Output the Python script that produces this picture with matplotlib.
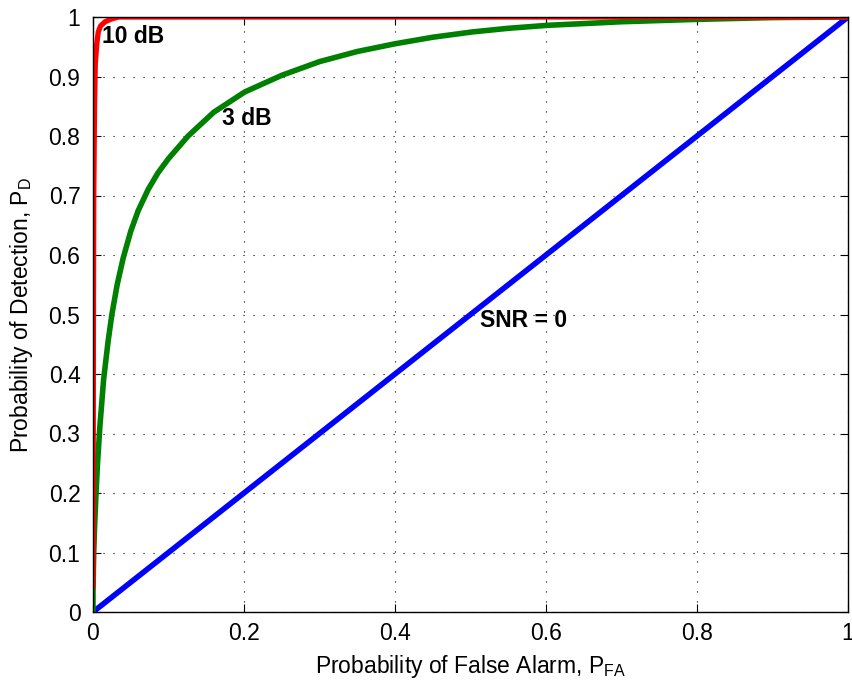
import matplotlib
matplotlib.use("Agg")
import matplotlib.pyplot as plt

plt.rcParams["font.family"] = ["Liberation Sans", "DejaVu Sans"]
plt.rcParams["mathtext.default"] = "regular"

# ROC curves: probability of false alarm vs probability of detection
snr0_pfa = [0.0, 1.0]
snr0_pd = [0.0, 1.0]

snr3_pfa = [0.0, 0.0, 0.0005, 0.001, 0.002, 0.004, 0.006, 0.009, 0.014,
            0.020, 0.025, 0.032, 0.040, 0.050, 0.060, 0.073, 0.086, 0.100,
            0.126, 0.160, 0.201, 0.250, 0.300, 0.350, 0.400, 0.450, 0.503,
            0.550, 0.602, 0.700, 0.800, 0.900, 1.0]
snr3_pd = [0.0, 0.03, 0.07, 0.10, 0.14, 0.20, 0.25, 0.31, 0.39,
           0.455, 0.50, 0.55, 0.595, 0.64, 0.675, 0.71, 0.738, 0.762,
           0.80, 0.84, 0.874, 0.902, 0.925, 0.942, 0.955, 0.966, 0.975,
           0.981, 0.986, 0.992, 0.996, 0.999, 1.0]

snr10_pfa = [0.0, 0.0005, 0.001, 0.002, 0.003, 0.005, 0.007, 0.010, 0.016,
             0.025, 0.034, 0.1, 1.0]
snr10_pd = [0.045, 0.45, 0.70, 0.85, 0.92, 0.955, 0.975, 0.985, 0.992,
            0.997, 1.0, 1.0, 1.0]

fig = plt.figure(figsize=(8.53, 6.84), dpi=100)
ax = fig.add_axes([93 / 853, 72 / 684, 755 / 853, 595 / 684])

ax.plot(snr0_pfa, snr0_pd, color="#0000ff", lw=4.0, solid_capstyle="butt")
ax.plot(snr3_pfa, snr3_pd, color="#008000", lw=4.0, solid_joinstyle="round")
ax.plot(snr10_pfa, snr10_pd, color="#ff0000", lw=3.8, solid_joinstyle="round")

ax.set_xlim(0, 1)
ax.set_ylim(0, 1)
ax.set_xticks([0, 0.2, 0.4, 0.6, 0.8, 1])
ax.set_xticklabels(["0", "0.2", "0.4", "0.6", "0.8", "1"])
ax.set_yticks([i / 10 for i in range(11)])
ax.set_yticklabels(["0"] + [f"0.{i}" for i in range(1, 10)] + ["1"])
ax.grid(True, linestyle=(0, (1, 8)), color="black", linewidth=0.8)
ax.tick_params(direction="in", top=True, right=True, labelsize=16.5,
               length=6)
ax.tick_params(axis="y", pad=9)
ax.tick_params(axis="x", pad=7)
for s in ax.spines.values():
    s.set_linewidth(1.0)

ax.set_xlabel("Probability of False Alarm, P$_{FA}$", fontsize=16.5,
              labelpad=6)
ax.set_ylabel("Probability of Detection, P$_{D}$", fontsize=16.5,
              labelpad=10)

ax.text(0.012, 0.967, "10 dB", fontsize=16.5, fontweight="bold", va="center")
ax.text(0.1705, 0.830, "3 dB", fontsize=16.5, fontweight="bold", va="center")
ax.text(0.5126, 0.490, "SNR = 0", fontsize=16.5, fontweight="bold",
        va="center")

fig.savefig("out.png", dpi=100)
